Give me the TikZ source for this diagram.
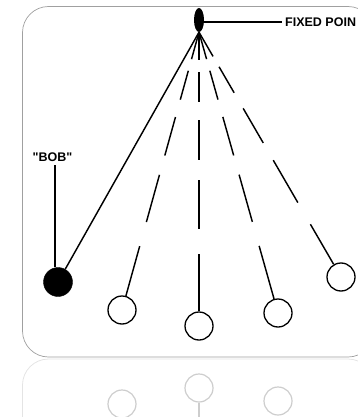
\documentclass[tikz,border=0pt]{standalone}
\usepackage{fontspec}
\setmainfont{Liberation Sans}[Ligatures = TeXOff]
\usetikzlibrary{shapes}
\definecolor{frame-gray}{RGB}{160, 160, 160}
\definecolor{mirror-gray}{RGB}{205, 205, 205}
\definecolor{mirror-gray1}{RGB}{228, 228, 228}

\begin{document}
\begin{tikzpicture}[x = 1pt, y = -1pt,
    bobfilled/.style = {circle, fill = black, draw = black, minimum size = 29pt, inner sep = 0pt},
    bobopen/.style = {circle, draw = black, line width = 1.3pt, minimum size = 28pt, inner sep = 0pt},
    rope/.style = {line width = 1.45pt},
    dashrope/.style = {rope, dash pattern = on 28pt off 12pt on 30pt off 18pt on 40pt off 20pt on 49pt off 25pt on 80pt off 10pt},
    tag/.style = {font = \fontsize{12.5}{14}\selectfont\bfseries, inner sep = 0pt}]
          \useasboundingbox (0, 0) rectangle (358, 417);
          \clip (0, 0) rectangle (358, 417);

          % reflection under the frame
          \draw[mirror-gray1, line width = 0.8pt, rounded corners = 26pt] (22.5, 359) rectangle (374, 760);
          \node[circle, draw = mirror-gray, line width = 1.2pt, minimum size = 28pt, inner sep = 0pt] (m1) at (122, 404) {};
          \node[circle, draw = mirror-gray, line width = 1.2pt, minimum size = 28pt, inner sep = 0pt] (m2) at (199, 388) {};
          \node[circle, draw = mirror-gray, line width = 1.2pt, minimum size = 28pt, inner sep = 0pt] (m3) at (278, 401) {};
          \coordinate (mend) at (199, 420);
          \draw[mirror-gray, line width = 1.3pt] (m2) -- (mend);

          % frame
          \draw[frame-gray, line width = 0.7pt, rounded corners = 26pt] (22.5, 6.5) rectangle (374, 357);

          % fixed point and bobs
          \node[ellipse, fill = black, minimum width = 10pt, minimum height = 24pt, inner sep = 0pt] (pivot) at (199, 20) {};
          \node[tag, anchor = west] (fixed) at (285, 22) {FIXED POIN};
          \draw[line width = 1.1pt] (pivot.east |- fixed.west) -- ([xshift = -3pt]fixed.west);

          \node[bobfilled] (b0) at (58, 282) {};
          \node[bobopen] (b1) at (122, 310) {};
          \node[bobopen] (b2) at (199, 326) {};
          \node[bobopen] (b3) at (278, 313) {};
          \node[bobopen] (b4) at (341, 277) {};

          \draw[rope] (pivot.south) -- (b0);
          \foreach \b in {b1, b2, b3, b4}
            \draw[dashrope] (pivot.south) -- (\b);

          \node[tag] (boblabel) at (52.5, 157.5) {"BOB"};
          \draw[rope] ([xshift = 2.5pt, yshift = -3pt]boblabel.south) -- ([xshift = 2.5pt]boblabel.south |- b0.north);
\end{tikzpicture}
\end{document}
